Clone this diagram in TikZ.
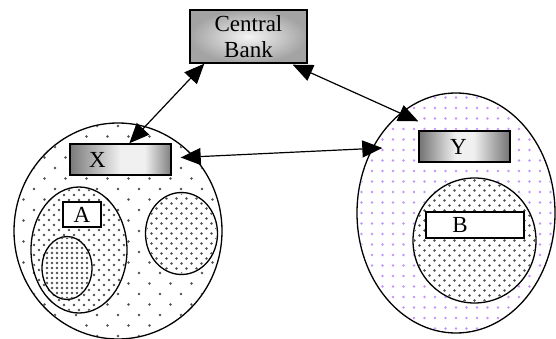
\documentclass[tikz,border=0pt]{standalone}
\usepackage{fontspec}
\setmainfont{Liberation Serif}
\usetikzlibrary{arrows.meta,shapes.geometric,calc}
\definecolor{lilac}{RGB}{195,150,255}
\definecolor{dotgray}{RGB}{80,80,80}
\pgfdeclarehorizontalshading{xshade}{100bp}{color(0bp)=(black!52); color(25bp)=(black!52); color(50bp)=(black!6); color(62bp)=(black!6); color(75bp)=(black!50); color(100bp)=(black!50)}
\pgfdeclarehorizontalshading{yshade}{100bp}{color(0bp)=(black!55); color(25bp)=(black!55); color(45bp)=(black!6); color(55bp)=(black!6); color(75bp)=(black!55); color(100bp)=(black!55)}
% \mydots{node}{rx}{ry}{sx}{sy}{colour}{radius}{stagger}
\newcommand\mydots[8]{%
  \begin{scope}
    \clip (#1.center) ellipse[x radius=#2, y radius=#3];
    \foreach \rr in {-14,...,14}{
      \foreach \cc in {-11,...,11}{
        \fill[#6] ($(#1.center)+({\cc*#4+#8*mod(\rr,2)*#4/2},{\rr*#5})$) circle[radius=#7];
      }
    }
  \end{scope}}
\tikzset{
  ell/.style={ellipse, draw, line width=1.3pt, inner sep=0pt, fill=white},
  box/.style={rectangle, draw, line width=1.4pt, inner sep=0pt, font=\fontsize{23}{26}\selectfont},
  wbox/.style={box, fill=white},
  link/.style={line width=1.2pt, {Triangle[length=20pt,width=17pt]}-{Triangle[length=20pt,width=17pt]}}
}
\begin{document}
\begin{tikzpicture}[x=1pt,y=-1pt]
\useasboundingbox (0,0) rectangle (556,339);
% left region
\node[ell, minimum width=208pt, minimum height=216pt] (lcirc) at (118,231) {};
\mydots{lcirc}{103}{107}{21}{10.5}{dotgray}{1.35pt}{1}
\node[ell, minimum width=96pt, minimum height=126pt] (lell) at (79,250) {};
\mydots{lell}{47}{62}{10}{5}{dotgray}{1.3pt}{1}
\node[ell, minimum width=50pt, minimum height=63pt] (sell) at (67,268) {};
\mydots{sell}{24}{30.5}{5}{5}{dotgray}{1.3pt}{0}
\node[ell, minimum width=72pt, minimum height=82pt] (rell) at (181.5,233.5) {};
\mydots{rell}{35}{40}{10}{5}{dotgray}{1.3pt}{1}
\node[wbox, minimum width=38pt, minimum height=25pt] (abox) at (82,214.5) {A};
\node[box, shading=xshade, minimum width=101pt, minimum height=31pt,
      label={[name=xtext, xshift=-23pt, font=\fontsize{23}{26}\selectfont]center:X}] (xbox) at (120.5,159.5) {};
% right region
\node[ell, minimum width=198pt, minimum height=240pt] (rcirc) at (456,213) {};
\mydots{rcirc}{98}{119}{10.5}{10.5}{lilac}{1.4pt}{0}
\node[ell, minimum width=123pt, minimum height=125pt] (icirc) at (474.5,240.5) {};
\mydots{icirc}{60.5}{61.5}{10}{5}{dotgray}{1.3pt}{1}
\node[wbox, minimum width=98pt, minimum height=26pt,
      label={[name=btext, xshift=-15pt, font=\fontsize{23}{26}\selectfont]center:B}] (bbox) at (475,225) {};
\node[box, shading=yshade, minimum width=91pt, minimum height=31pt,
      label={[name=ytext, xshift=-6pt, font=\fontsize{23}{26}\selectfont]center:Y}] (ybox) at (464.5,146.5) {};
% central bank
\node[box, inner color=black!4, outer color=black!36, minimum width=117pt, minimum height=53pt, align=center] (cb) at (248.5,36.5) {Central\\Bank};
% connectors
\draw[link] ([xshift=60pt]xbox.north west) -- ([xshift=15pt]cb.south west);
\draw[link] ([xshift=-15pt,yshift=-1pt]cb.south east) -- ([yshift=9pt]ybox.north west);
\draw[link] ([xshift=9pt,yshift=2pt]xbox.east) -- ([xshift=-36pt,yshift=-1.5pt]ybox.west);
\end{tikzpicture}
\end{document}
